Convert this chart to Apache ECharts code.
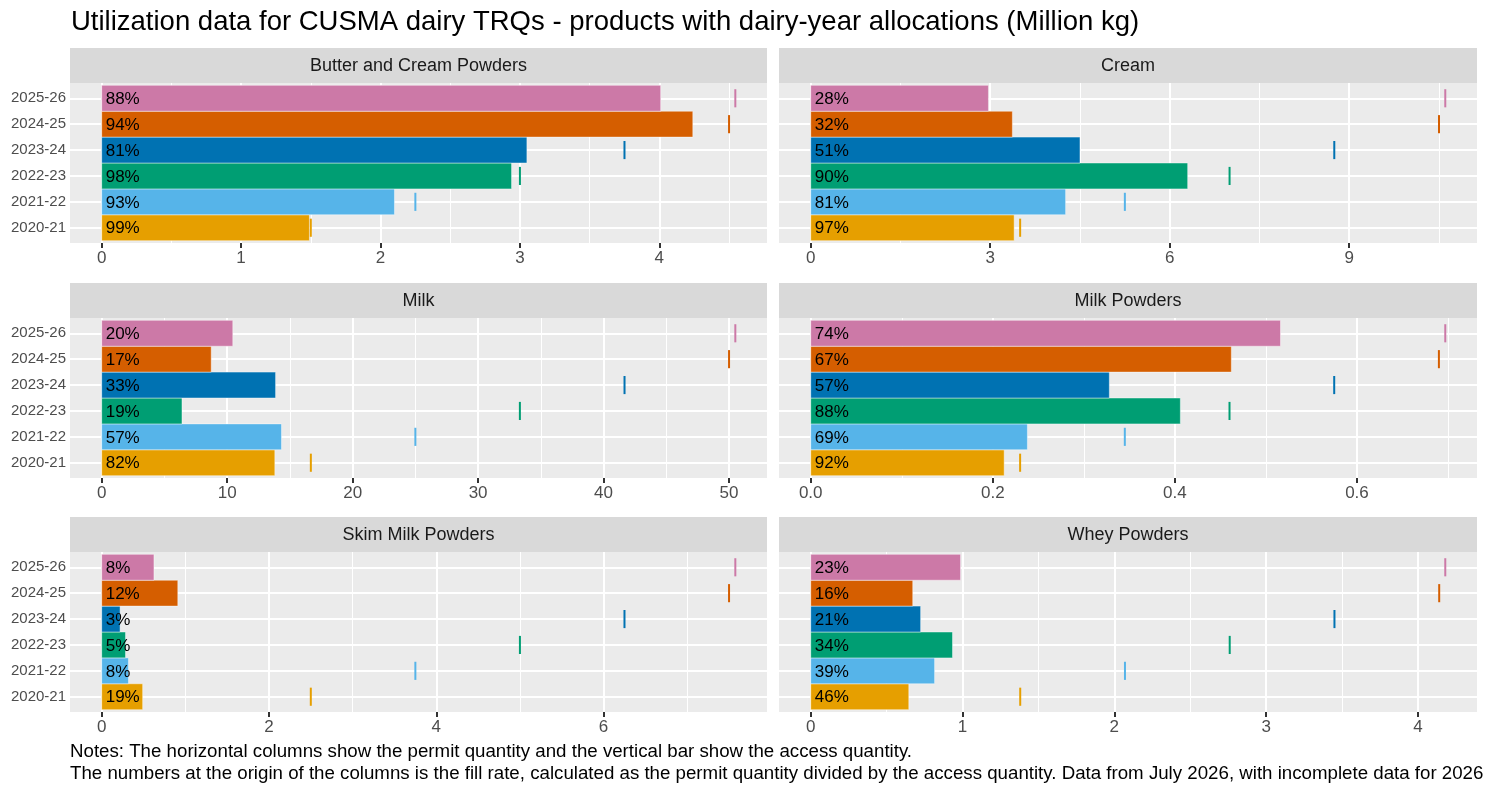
<!DOCTYPE html>
<html>
<head>
<meta charset="utf-8">
<script src="https://cdn.jsdelivr.net/npm/echarts@6/dist/echarts.min.js"></script>
<style>
  html, body { margin: 0; padding: 0; background: #fff; }
  #chart { width: 1488px; height: 800px; }
</style>
</head>
<body>
<div id="chart"></div>
<script>
// years run bottom to top
const years = ['2020-21', '2021-22', '2022-23', '2023-24', '2024-25', '2025-26'];
const yearColors = ['#E69F00', '#56B4E9', '#009E73', '#0072B2', '#D55E00', '#CC79A7'];
const products = ['Butter and Cream Powders', 'Cream', 'Milk', 'Milk Powders', 'Skim Milk Powders', 'Whey Powders'];

// permit quantity (columns), access quantity (vertical marks), fill rate label (%)
const butterPermit = [1.49, 2.10, 2.94, 3.05, 4.24, 4.01];
const butterAccess = [1.5, 2.25, 3.0, 3.75, 4.5, 4.545];
const butterFill = [99, 93, 98, 81, 94, 88];

const creamPermit = [3.40, 4.26, 6.30, 4.50, 3.37, 2.97];
const creamAccess = [3.5, 5.25, 7.0, 8.75, 10.5, 10.605];
const creamFill = [97, 81, 90, 51, 32, 28];

const milkPermit = [13.8, 14.33, 6.40, 13.86, 8.73, 10.45];
const milkAccess = [16.67, 25.0, 33.33, 41.67, 50.0, 50.5];
const milkFill = [82, 57, 19, 33, 17, 20];

const milkPowderPermit = [0.2125, 0.238, 0.406, 0.328, 0.462, 0.516];
const milkPowderAccess = [0.23, 0.345, 0.46, 0.575, 0.69, 0.697];
const milkPowderFill = [92, 69, 88, 57, 67, 74];

const skimPermit = [0.49, 0.32, 0.285, 0.22, 0.91, 0.625];
const skimAccess = [2.5, 3.75, 5.0, 6.25, 7.5, 7.575];
const skimFill = [19, 8, 5, 3, 12, 8];

const wheyPermit = [0.646, 0.816, 0.934, 0.724, 0.672, 0.987];
const wheyAccess = [1.38, 2.07, 2.76, 3.45, 4.14, 4.18];
const wheyFill = [46, 39, 34, 21, 16, 23];

// x tick labels per panel
const butterTicks = [0, 1, 2, 3, 4];
const creamTicks = [0, 3, 6, 9];
const milkTicks = [0, 10, 20, 30, 40, 50];
const milkPowderTicks = [0, 0.2, 0.4, 0.6];
const skimTicks = [0, 2, 4, 6];
const wheyTicks = [0, 1, 2, 3, 4];

const panels = [
  { permit: butterPermit, access: butterAccess, fill: butterFill, ticks: butterTicks, fmt: v => String(v) },
  { permit: creamPermit, access: creamAccess, fill: creamFill, ticks: creamTicks, fmt: v => String(v) },
  { permit: milkPermit, access: milkAccess, fill: milkFill, ticks: milkTicks, fmt: v => String(v) },
  { permit: milkPowderPermit, access: milkPowderAccess, fill: milkPowderFill, ticks: milkPowderTicks, fmt: v => v.toFixed(1) },
  { permit: skimPermit, access: skimAccess, fill: skimFill, ticks: skimTicks, fmt: v => String(v) },
  { permit: wheyPermit, access: wheyAccess, fill: wheyFill, ticks: wheyTicks, fmt: v => String(v) }
];

const FONT = 'Arial, "Liberation Sans", sans-serif';
const colLeft = [70, 779];
const colWidth = [697, 698];
const stripTop = [48, 283, 517];
const stripH = 35;
const panelH = 160;

const grids = [], xAxes = [], yAxes = [], series = [], graphics = [];
const yVals = years.map((_, i) => i + 1);

panels.forEach((p, i) => {
  const col = i % 2, row = Math.floor(i / 2);
  const top = stripTop[row] + stripH;
  grids.push({ left: colLeft[col], top: top, width: colWidth[col], height: panelH,
    show: true, backgroundColor: '#EBEBEB', borderWidth: 0, containLabel: false });

  const hi = Math.max(...p.access, ...p.permit);
  const xmin = -0.05 * hi, xmax = 1.05 * hi;
  const step = p.ticks[1] - p.ticks[0];
  const minor = [];
  for (let v = step / 2; v < xmax; v += step) minor.push(+v.toFixed(6));

  xAxes.push({
    gridIndex: i, type: 'value', min: xmin, max: xmax,
    axisLine: { show: false, onZero: false },
    axisTick: { show: true, customValues: p.ticks, length: 5, lineStyle: { color: '#333333', width: 2 } },
    axisLabel: { customValues: p.ticks, formatter: p.fmt, color: '#4D4D4D', fontSize: 17, fontFamily: FONT, margin: 7 },
    splitLine: { show: true, lineStyle: { color: '#FFFFFF', width: 2 } }
  });
  xAxes.push({
    gridIndex: i, type: 'value', min: xmin, max: xmax, position: 'bottom',
    axisLine: { show: false, onZero: false },
    axisTick: { show: false, customValues: minor },
    axisLabel: { show: false, customValues: minor },
    splitLine: { show: true, lineStyle: { color: '#FFFFFF', width: 1 } }
  });
  yAxes.push({
    gridIndex: i, type: 'value', min: 0.41, max: 6.59,
    axisLine: { show: false },
    axisTick: { show: false, customValues: yVals },
    axisLabel: { show: col === 0, customValues: yVals, formatter: v => years[Math.round(v) - 1],
      color: '#4D4D4D', fontSize: 15, fontFamily: FONT, margin: 4 },
    splitLine: { show: true, lineStyle: { color: '#FFFFFF', width: 2 } }
  });

  // facet strip
  graphics.push({ type: 'rect', shape: { x: colLeft[col], y: stripTop[row], width: colWidth[col], height: stripH },
    style: { fill: '#D9D9D9' }, silent: true });
  graphics.push({ type: 'text', x: colLeft[col] + colWidth[col] / 2, y: stripTop[row] + stripH / 2 + 1,
    style: { text: products[i], fill: '#1A1A1A', fontSize: 18, fontFamily: FONT, align: 'center', verticalAlign: 'middle' }, silent: true });

  series.push({
    type: 'custom', xAxisIndex: i * 2, yAxisIndex: i,
    data: p.permit.map((v, k) => [v, k + 1, p.fill[k]]),
    renderItem: (params, api) => {
      const v = api.value(0), y = api.value(1), k = Math.round(y) - 1;
      const a = api.coord([0, y + 0.5]);
      const b = api.coord([v, y - 0.5]);
      return {
        type: 'group',
        children: [
          { type: 'rect', shape: { x: a[0], y: a[1], width: b[0] - a[0], height: b[1] - a[1] },
            style: { fill: yearColors[k], stroke: 'rgba(255,255,255,0.55)', lineWidth: 0.8 } },
          { type: 'text', x: a[0] + 4, y: (a[1] + b[1]) / 2 + 1,
            style: { text: api.value(2) + '%', fill: '#000000', fontSize: 17, fontFamily: FONT, align: 'left', verticalAlign: 'middle' } }
        ]
      };
    },
    animation: false, silent: true, z: 3
  });
  series.push({
    type: 'custom', xAxisIndex: i * 2, yAxisIndex: i,
    data: p.access.map((v, k) => [v, k + 1]),
    renderItem: (params, api) => {
      const v = api.value(0), y = api.value(1), k = Math.round(y) - 1;
      const a = api.coord([v, y + 0.35]);
      const b = api.coord([v, y - 0.35]);
      return { type: 'line', shape: { x1: a[0], y1: a[1], x2: b[0], y2: b[1] },
        style: { stroke: yearColors[k], lineWidth: 2 } };
    },
    animation: false, silent: true, z: 4
  });
});

graphics.push({ type: 'text', x: 70, y: 752,
  style: { text: 'Notes: The horizontal columns show the permit quantity and the vertical bar show the access quantity.',
    fill: '#000000', fontSize: 18.7, fontFamily: FONT, align: 'left', verticalAlign: 'middle' }, silent: true });
graphics.push({ type: 'text', x: 70, y: 774,
  style: { text: 'The numbers at the origin of the columns is the fill rate, calculated as the permit quantity divided by the access quantity. Data from July 2026, with incomplete data for 2026',
    fill: '#000000', fontSize: 18.7, fontFamily: FONT, align: 'left', verticalAlign: 'middle' }, silent: true });

const chart = echarts.init(document.getElementById('chart'), null, { renderer: 'canvas' });
chart.setOption({
  animation: false,
  backgroundColor: '#FFFFFF',
  title: {
    text: 'Utilization data for CUSMA dairy TRQs - products with dairy-year allocations (Million kg)',
    left: 66, top: 3,
    textStyle: { fontSize: 27.5, fontWeight: 'normal', color: '#000000', fontFamily: FONT }
  },
  grid: grids,
  xAxis: xAxes,
  yAxis: yAxes,
  series: series,
  graphic: graphics
});
</script>
</body>
</html>
